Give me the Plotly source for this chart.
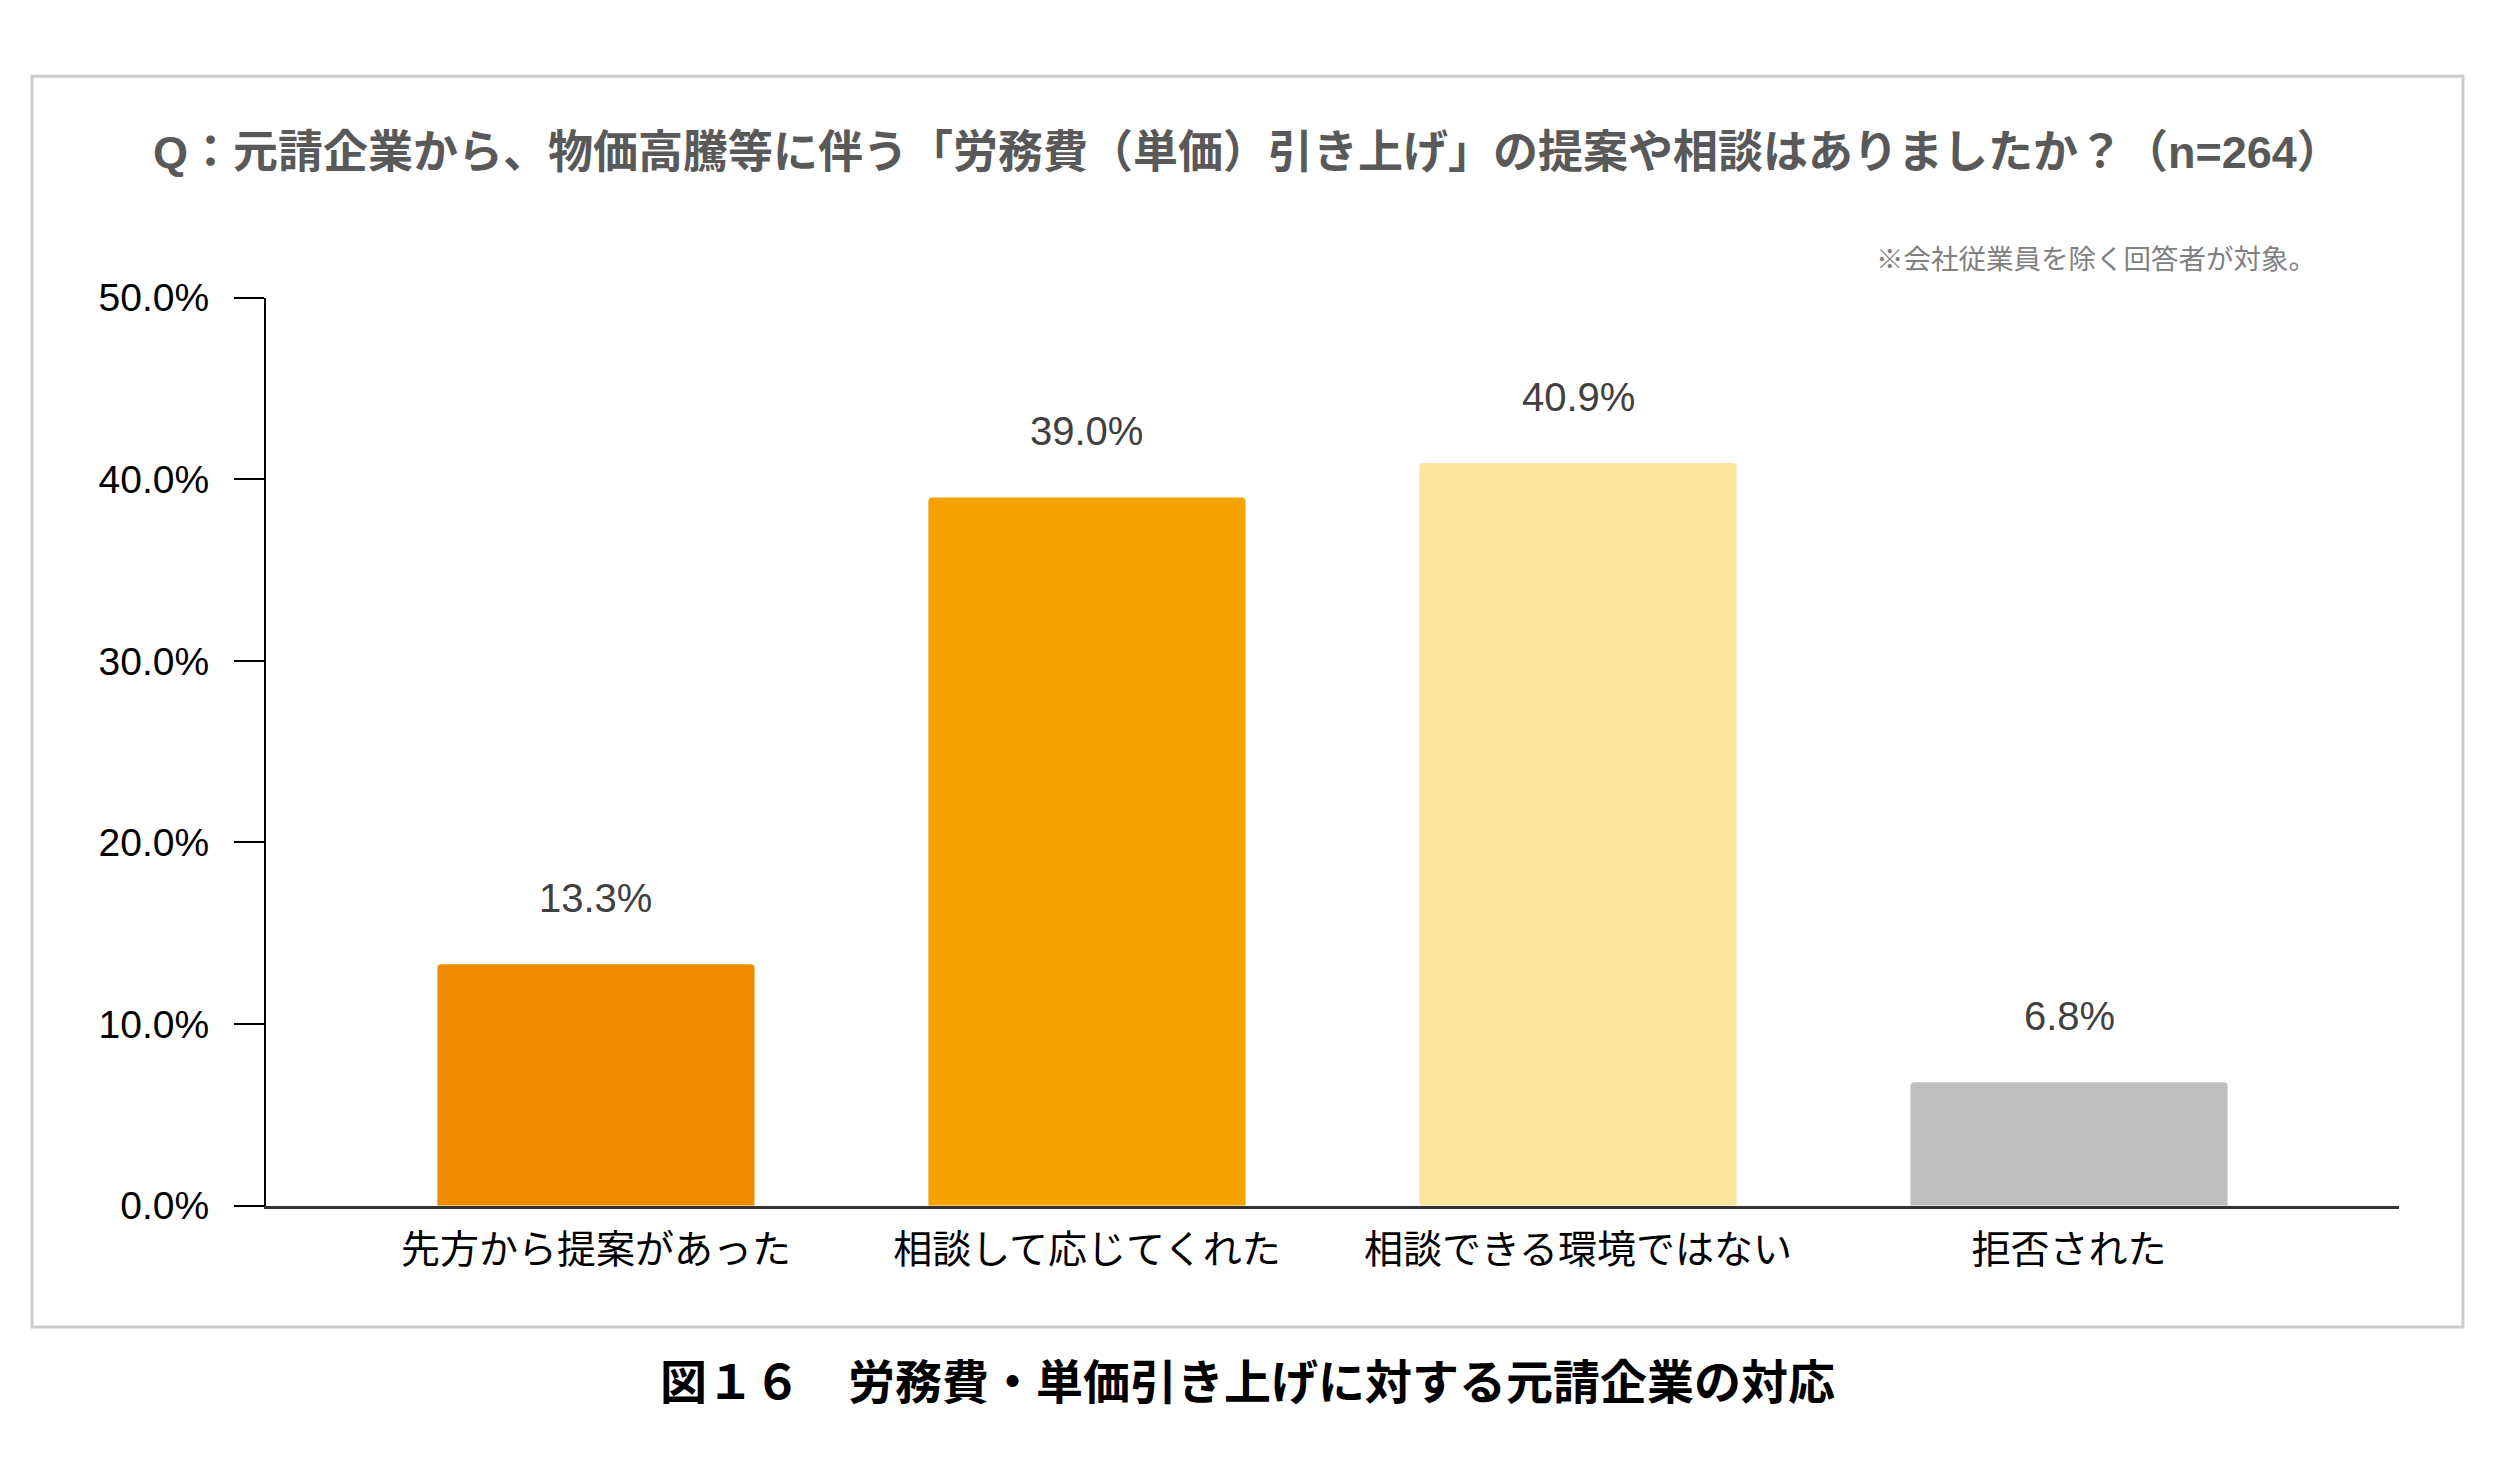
import plotly.graph_objects as go

# ---- data ----
categories = ["先方から提案があった", "相談して応じてくれた", "相談できる環境ではない", "拒否された"]
values = [13.3, 39.0, 40.9, 6.8]
value_labels = ["13.3%", "39.0%", "40.9%", "6.8%"]
bar_colors = ["#F08C00", "#F5A300", "#FDE5A0", "#BFBFBF"]
y_tick_vals = [0, 10, 20, 30, 40, 50]
y_tick_text = ["0.0%", "10.0%", "20.0%", "30.0%", "40.0%", "50.0%"]

title_text = "Q：元請企業から、物価高騰等に伴う「労務費（単価）引き上げ」の提案や相談はありましたか？（n=264）"
note_text = "※会社従業員を除く回答者が対象。"
caption_text = "図１６　労務費・単価引き上げに対する元請企業の対応"

FONT = "Liberation Sans, Arial, Noto Sans CJK JP, sans-serif"
W, H = 2500, 1483

fig = go.Figure()
fig.add_trace(go.Bar(
    x=categories,
    y=values,
    marker=dict(color=bar_colors, line=dict(width=0), cornerradius=4),
    hoverinfo="skip",
))

annotations = []
for c, v, t in zip(categories, values, value_labels):
    annotations.append(dict(
        x=c, y=v, xref="x", yref="y", text=t, showarrow=False,
        yanchor="middle", yshift=66,
        font=dict(family=FONT, size=40, color="#404040"),
    ))

annotations.append(dict(
    x=1247 / W, y=1 - 135 / H, xref="paper", yref="paper", text="<b>" + title_text + "</b>",
    showarrow=False, xanchor="center", yanchor="middle",
    font=dict(family=FONT, size=45, color="#595959"),
))
annotations.append(dict(
    x=2318 / W, y=1 - 246 / H, xref="paper", yref="paper", text=note_text,
    showarrow=False, xanchor="right", yanchor="middle",
    font=dict(family=FONT, size=27.5, color="#808080"),
))
annotations.append(dict(
    x=1247 / W, y=1 - 1402 / H, xref="paper", yref="paper", text="<b>" + caption_text + "</b>",
    showarrow=False, xanchor="center", yanchor="middle",
    font=dict(family=FONT, size=47, color="#000000"),
))

fig.update_layout(
    width=W, height=H,
    margin=dict(l=0, r=0, t=0, b=0),
    paper_bgcolor="white", plot_bgcolor="white",
    showlegend=False,
    bargap=0.354,
    annotations=annotations,
    shapes=[dict(
        type="rect", xref="paper", yref="paper",
        x0=32 / W, x1=2463 / W, y0=1 - 1345 / H, y1=1 - 57 / H,
        line=dict(color="#CCCCCC", width=3), fillcolor="rgba(0,0,0,0)", layer="below",
    )],
    xaxis=dict(
        domain=[266 / W, 2399 / W],
        range=[-0.672, 3.672],
        showline=True, linecolor="#333333", linewidth=3,
        ticks="", showgrid=False, zeroline=False,
        tickfont=dict(family=FONT, size=39, color="#000000"),
        ticklabelstandoff=8,
    ),
    yaxis=dict(
        domain=[1 - 1220 / H, 1 - 285 / H],
        range=[0, 50],
        tickvals=y_tick_vals, ticktext=y_tick_text,
        showline=True, linecolor="#000000", linewidth=2,
        ticks="outside", ticklen=30, tickwidth=2, tickcolor="#000000",
        showgrid=False, zeroline=False,
        tickfont=dict(family=FONT, size=39, color="#000000"),
        ticklabelstandoff=17,
    ),
)

fig.write_html(
    "out.html",
    config={"displayModeBar": False},
    post_script="document.body.style.margin='0px';document.body.style.overflow='hidden';",
)
